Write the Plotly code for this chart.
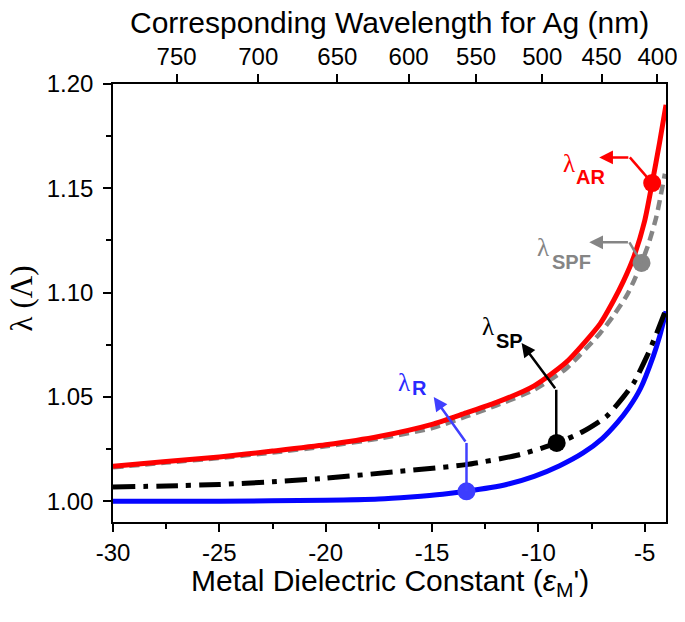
import plotly.graph_objects as go

# ---- data ----
red_x = [-30, -27.5, -25, -22.5, -20, -17.5, -15, -13.4, -12, -10.2, -8.7, -7.1, -6.5, -6.0, -5.5, -5.0, -4.65, -4.3, -4.0]
red_y = [1.0167, 1.0190, 1.0212, 1.0240, 1.0270, 1.0310, 1.0368, 1.0423, 1.0472, 1.0553, 1.0665, 1.0850, 1.0955, 1.1055, 1.1175, 1.1345, 1.1525, 1.1720, 1.1900]

gray_x = [-30, -27.5, -25, -22.5, -20, -17.5, -15, -13.4, -12, -10.2, -8.7, -7.1, -6.5, -5.85, -5.5, -5.15, -4.8, -4.45, -4.05]
gray_y = [1.0162, 1.0185, 1.0207, 1.0233, 1.0263, 1.0300, 1.0350, 1.0406, 1.0458, 1.0534, 1.0635, 1.0805, 1.0885, 1.0985, 1.1058, 1.1142, 1.1240, 1.1365, 1.1570]

blue_x = [-30, -25, -20, -17.5, -16, -14.5, -13.4, -11.5, -10.2, -9, -7.9, -7, -6.3, -5.75, -5.2, -4.6, -4.3, -4.0]
blue_y = [1.0000, 1.0000, 1.0004, 1.0010, 1.0020, 1.0033, 1.0047, 1.0080, 1.0119, 1.0170, 1.0231, 1.0300, 1.0375, 1.0447, 1.0540, 1.0694, 1.0790, 1.0910]

black_x = [-30, -27.5, -25, -22.5, -20, -16.5, -13.4, -11, -9.1, -7.9, -6.8, -6.0, -5.5, -4.9, -4.5, -4.0]
black_y = [1.0068, 1.0073, 1.0080, 1.0093, 1.0110, 1.0143, 1.0175, 1.0220, 1.0279, 1.0334, 1.0406, 1.0500, 1.0570, 1.0694, 1.0790, 1.0920]

# marked points: AR, SPF, SP, R
mark_x = [-4.65, -5.15, -9.14, -13.38]
mark_y = [1.1525, 1.1142, 1.0279, 1.0047]
mark_colors = ["#ff0000", "#858585", "#000000", "#3d3dff"]

bottom_ticks = [-30, -25, -20, -15, -10, -5]
wl_labels = ["750", "700", "650", "600", "550", "500", "450", "400"]
wl_positions = [-27.01, -23.17, -19.45, -16.10, -12.93, -9.82, -7.03, -4.40]

SANS = "Liberation Sans, Arial, sans-serif"
SERIF = "Liberation Serif, Times New Roman, serif"

fig = go.Figure()
fig.add_trace(go.Scatter(x=blue_x, y=blue_y, mode="lines", line=dict(color="#0505ff", width=5, shape="spline", smoothing=0.6), hoverinfo="skip"))
fig.add_trace(go.Scatter(x=black_x, y=black_y, mode="lines", line=dict(color="#000000", width=5, dash="22px,8px,5px,8px", shape="spline", smoothing=0.6), hoverinfo="skip"))
fig.add_trace(go.Scatter(x=gray_x, y=gray_y, mode="lines", line=dict(color="#858585", width=4.5, dash="10px,6px", shape="spline", smoothing=0.6), hoverinfo="skip"))
fig.add_trace(go.Scatter(x=red_x, y=red_y, mode="lines", line=dict(color="#ff0000", width=5, shape="spline", smoothing=0.6), hoverinfo="skip"))
fig.add_trace(go.Scatter(x=wl_positions, y=[None] * len(wl_positions), xaxis="x2", mode="lines", line=dict(width=0), hoverinfo="skip"))

# arrows (first segment as shape, second as annotation arrow)
arrows = [
    # color, dot, bend, tip
    ("#ff0000", (mark_x[0], mark_y[0]), (-5.70, 1.1648), (-7.14, 1.1648)),
    ("#858585", (mark_x[1], mark_y[1]), (-5.72, 1.1241), (-7.61, 1.1241)),
    ("#000000", (-9.16, mark_y[2]), (-9.16, 1.0534), (-10.79, 1.0758)),
    ("#4040ff", (mark_x[3], mark_y[3]), (-13.38, 1.0279), (-14.92, 1.0499)),
]
for col, p0, p1, tip in arrows:
    fig.add_shape(type="line", x0=p0[0], y0=p0[1], x1=p1[0], y1=p1[1], xref="x", yref="y", line=dict(color=col, width=2.5))
    fig.add_annotation(x=tip[0], y=tip[1], ax=p1[0], ay=p1[1], xref="x", yref="y", axref="x", ayref="y",
                       text="", showarrow=True, arrowhead=2, arrowsize=1.1, arrowwidth=2.5, arrowcolor=col, standoff=0, startstandoff=0)

fig.add_trace(go.Scatter(x=mark_x, y=mark_y, mode="markers", marker=dict(color=mark_colors, size=18, line=dict(width=0)), hoverinfo="skip"))

labels = [
    ("#ff0000", (-8.57, 1.1618), "AR", (-7.56, 1.1553)),
    ("#858585", (-9.79, 1.1215), "SPF", (-8.43, 1.1147)),
    ("#000000", (-12.38, 1.0837), "SP", (-11.36, 1.0769)),
    ("#2a2aff", (-16.32, 1.0571), "R", (-15.57, 1.0543)),
]
for col, lp, sub, sp in labels:
    fig.add_annotation(x=lp[0], y=lp[1], xref="x", yref="y", text="λ", showarrow=False,
                       font=dict(family=SERIF, size=25, color=col))
    fig.add_annotation(x=sp[0], y=sp[1], xref="x", yref="y", text="<b>" + sub + "</b>", showarrow=False,
                       font=dict(family=SANS, size=20, color=col))

# titles
fig.add_annotation(x=0.5, y=-0.138, xref="paper", yref="paper", showarrow=False, xanchor="center", yanchor="middle",
                   text="Metal Dielectric Constant (<i>ε</i><sub>M</sub>')", font=dict(family=SANS, size=30, color="black"))
fig.add_annotation(x=0.5, y=1.141, xref="paper", yref="paper", showarrow=False, xanchor="center", yanchor="middle",
                   text="Corresponding Wavelength for Ag (nm)", font=dict(family=SANS, size=30, color="black"))
fig.add_annotation(x=-0.166, y=0.511, xref="paper", yref="paper", showarrow=False, textangle=-90,
                   xanchor="center", yanchor="middle",
                   text="λ (Λ)", font=dict(family=SERIF, size=31, color="black"))

axis_common = dict(showgrid=False, zeroline=False, showline=True, linecolor="black", linewidth=1.5,
                   ticks="outside", tickcolor="black", tickwidth=1.5, ticklen=8, automargin=False,
                   ticklabeloverflow="allow",
                   tickfont=dict(family=SANS, size=24, color="black"))

# the page body adds an 8px offset; margins compensate so the plot box sits where the reference has it
fig.update_layout(
    width=669, height=606,
    margin=dict(l=105, r=11, t=76, b=92),
    paper_bgcolor="white", plot_bgcolor="white",
    showlegend=False,
    xaxis=dict(range=[-30, -4], tickmode="array", tickvals=bottom_ticks, ticktext=[str(v) for v in bottom_ticks],
               mirror=True, minor=dict(dtick=2.5, tick0=-30, ticks="outside", ticklen=5, tickwidth=1.5, tickcolor="black"),
               **axis_common),
    xaxis2=dict(range=[-30, -4], overlaying="x", side="top", tickmode="array", tickvals=wl_positions, ticktext=wl_labels,
                anchor="y", **axis_common),
    yaxis=dict(range=[0.99, 1.20], tickmode="linear", tick0=1.0, dtick=0.05, tickformat=".2f", mirror=True,
               ticklabelstandoff=5,
               minor=dict(dtick=0.025, tick0=1.0, ticks="outside", ticklen=5, tickwidth=1.5, tickcolor="black"),
               **axis_common),
)

fig.write_html("out.html")
